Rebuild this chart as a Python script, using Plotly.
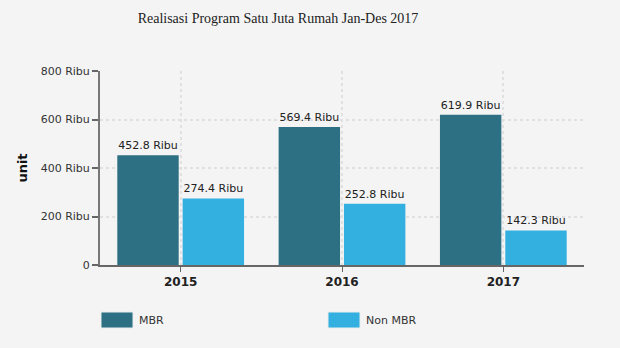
import plotly.graph_objects as go

# Realisasi Program Satu Juta Rumah, in thousands of units (Ribu)
years = ["2015", "2016", "2017"]
mbr = [452.8, 569.4, 619.9]
non_mbr = [274.4, 252.8, 142.3]
series_names = ["MBR", "Non MBR"]
y_tick_vals = [0, 200, 400, 600, 800]
y_tick_text = ["0", "200 Ribu", "400 Ribu", "600 Ribu", "800 Ribu"]

colors = ["#2e7083", "#33b0e0"]
W, H = 620, 348
L, R, T, B = 100, 36, 71, 83

fig = go.Figure()
for name, vals, col in zip(series_names, [mbr, non_mbr], colors):
    fig.add_trace(go.Bar(
        x=years, y=vals, name=name,
        marker=dict(color=col, line=dict(width=0)),
        text=[f"{v:.1f} Ribu" for v in vals],
        textposition="outside",
        textfont=dict(family="DejaVu Sans", size=11, color="#222"),
        cliponaxis=False,
        showlegend=False,
    ))

# hand-drawn legend row below the plot
shapes = []
annotations = []
for name, col, x0 in zip(series_names, colors, [101, 328]):
    shapes.append(dict(type="rect", xref="paper", yref="paper",
                       x0=(x0 - L) / (W - L - R), x1=(x0 + 32 - L) / (W - L - R),
                       y0=(H - B - 312) / (H - T - B), y1=(H - B - 328) / (H - T - B),
                       fillcolor=col, line=dict(width=1, color="#e8eef0")))
    annotations.append(dict(text=name, xref="paper", yref="paper",
                            x=(x0 + 36 - L) / (W - L - R), y=(H - B - 320) / (H - T - B),
                            xanchor="left", yanchor="middle", showarrow=False,
                            font=dict(family="DejaVu Sans", size=11, color="#333")))

fig.update_layout(
    width=W, height=H,
    margin=dict(l=L, r=R, t=T, b=B),
    paper_bgcolor="#f4f4f4", plot_bgcolor="#f4f4f4",
    barmode="group", bargap=0.19, bargroupgap=0.06,
    title=dict(text="Realisasi Program Satu Juta Rumah Jan-Des 2017",
               x=278 / W, xref="container", xanchor="center",
               y=1 - 18 / H, yref="container", yanchor="middle",
               font=dict(family="Liberation Serif", size=14, color="#222")),
    font=dict(family="DejaVu Sans", size=11, color="#333"),
    shapes=shapes,
    annotations=annotations,
    xaxis=dict(
        showline=True, linecolor="#666", linewidth=2,
        ticks="outside", ticklen=5, tickcolor="#666", tickwidth=1,
        showgrid=True, gridcolor="#e0e0e0", griddash="3px,3px", gridwidth=1.5,
        tickfont=dict(family="DejaVu Sans", size=12, color="#222", weight="bold"),
        ticklabelstandoff=0,
    ),
    yaxis=dict(
        range=[0, 800],
        tickvals=y_tick_vals, ticktext=y_tick_text,
        showline=True, linecolor="#777", linewidth=2,
        ticks="outside", ticklen=6, tickcolor="#666", tickwidth=2,
        showgrid=True, gridcolor="#e0e0e0", griddash="3px,3px", gridwidth=1.5,
        zeroline=False,
        tickfont=dict(family="DejaVu Sans", size=11, color="#333"),
        title=dict(text="unit", standoff=10,
                   font=dict(family="DejaVu Sans", size=13, color="#111", weight="bold")),
    ),
)

fig.write_html("out.html")
